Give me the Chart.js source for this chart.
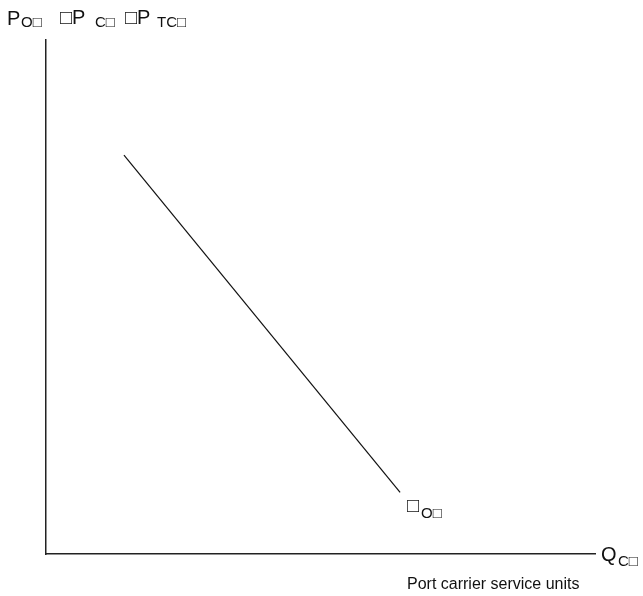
<!DOCTYPE html>
<html>
<head>
<meta charset="utf-8">
<script src="https://cdn.jsdelivr.net/npm/chart.js@4/dist/chart.umd.min.js"></script>
<style>
html,body{margin:0;padding:0;background:#fff;}
#wrap{width:643px;height:596px;}
</style>
</head>
<body>
<div id="wrap"><canvas id="c" width="643" height="596"></canvas></div>
<script>
// Demand line endpoints (quantity, price) in relative units
const quantities = [14.2, 64.5];
const prices = [77.6, 12.0];
const yAxisLabel = ["P", "O□", "□P", "C□", "□P", "TC□"];
const xAxisLabel = ["Q", "C□"];
const curveLabel = ["□", "O□"];
const xAxisTitle = "Port carrier service units";

const points = quantities.map((q, i) => ({x: q, y: prices[i]}));

const labelPlugin = {
  id: 'labels',
  afterDraw(chart) {
    const ctx = chart.ctx;
    const xs = chart.scales.x, ys = chart.scales.y;
    ctx.save();
    ctx.fillStyle = '#111';
    ctx.textBaseline = 'alphabetic';
    const big = '20px "Liberation Sans", Arial, sans-serif';
    const small = '15px "Liberation Sans", Arial, sans-serif';
    // y axis label at top-left
    const top = ys.top;
    ctx.font = big; ctx.fillText(yAxisLabel[0], 7, top - 15);
    ctx.font = small; ctx.fillText(yAxisLabel[1], 21, top - 13);
    ctx.font = big; ctx.fillText(yAxisLabel[2], 60, top - 16);
    ctx.font = small; ctx.fillText(yAxisLabel[3], 95, top - 13);
    ctx.font = big; ctx.fillText(yAxisLabel[4], 125, top - 16);
    ctx.font = small; ctx.fillText(yAxisLabel[5], 157, top - 13);
    // x axis label at right end
    const bottom = ys.bottom;
    const right = xs.right;
    ctx.font = big; ctx.fillText(xAxisLabel[0], right + 6, bottom + 7);
    ctx.font = small; ctx.fillText(xAxisLabel[1], right + 23, bottom + 12);
    // title under x axis
    ctx.font = '16px "Liberation Sans", Arial, sans-serif';
    ctx.fillText(xAxisTitle, 407, bottom + 35);
    // curve label near lower end of line
    const ex = xs.getPixelForValue(quantities[1]);
    const ey = ys.getPixelForValue(prices[1]);
    ctx.font = big; ctx.fillText(curveLabel[0], ex + 7, ey + 20);
    ctx.font = small; ctx.fillText(curveLabel[1], ex + 21, ey + 26);
    ctx.restore();
  }
};

new Chart(document.getElementById('c'), {
  type: 'line',
  data: {
    datasets: [{
      data: points,
      borderColor: '#111',
      borderWidth: 1.2,
      pointRadius: 0,
      fill: false,
      tension: 0
    }]
  },
  options: {
    responsive: false,
    animation: false,
    layout: {padding: {left: 46, top: 40, right: 48, bottom: 42}},
    plugins: {legend: {display: false}, tooltip: {enabled: false}},
    scales: {
      x: {
        type: 'linear', min: 0, max: 100,
        ticks: {display: false},
        grid: {display: false, drawTicks: false},
        border: {display: true, color: '#222', width: 1.5}
      },
      y: {
        type: 'linear', min: 0, max: 100,
        ticks: {display: false},
        grid: {display: false, drawTicks: false},
        border: {display: true, color: '#222', width: 1.5}
      }
    }
  },
  plugins: [labelPlugin]
});
</script>
</body>
</html>
